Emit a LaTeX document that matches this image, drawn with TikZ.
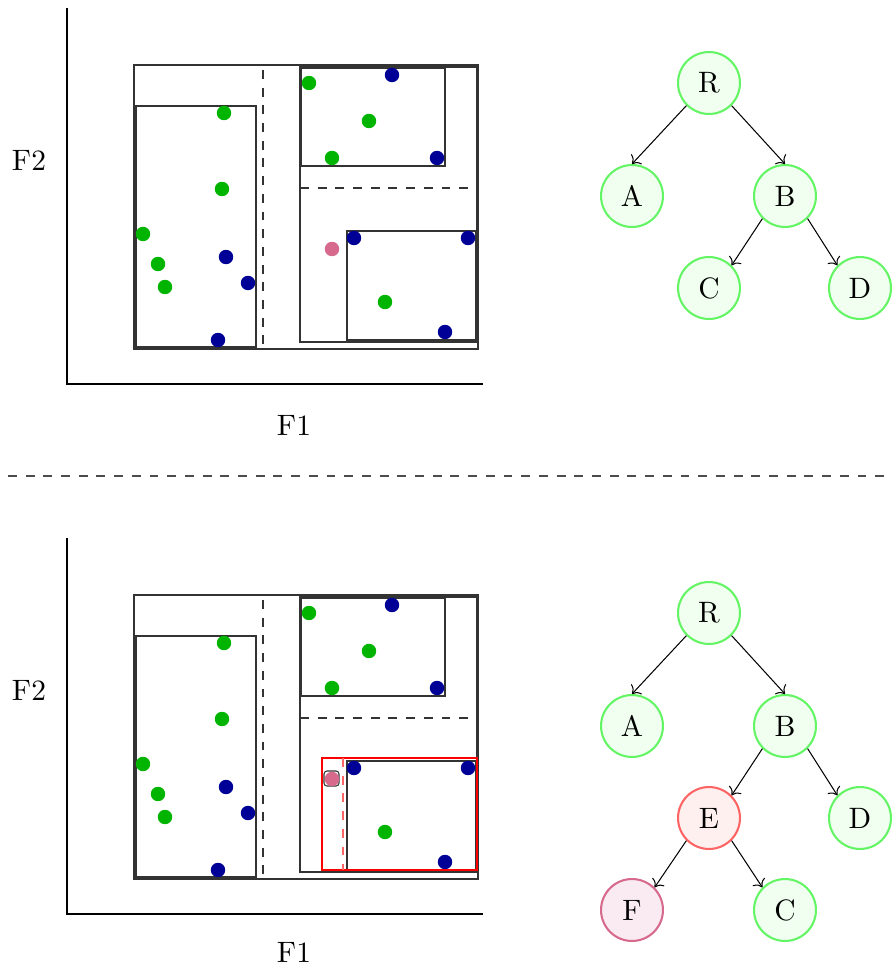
\documentclass[tikz,border=0pt]{standalone}
\usetikzlibrary{arrows.meta}
\definecolor{dotgreen}{RGB}{0,180,0}
\definecolor{dotblue}{RGB}{0,0,150}
\definecolor{dotpink}{RGB}{215,105,140}
\definecolor{tgreen}{RGB}{100,245,100}
\definecolor{tgreenfill}{RGB}{240,255,240}
\definecolor{tred}{RGB}{255,100,100}
\definecolor{tredfill}{RGB}{255,240,240}
\definecolor{tpinkfill}{RGB}{250,235,242}
\newcommand\scatterpanel{%
  \draw (67,8) -- (67,384) -- (483,384);
  \draw[box] (134,65) rectangle (478,349);
  \draw[box,dashed] (263,70) -- (263,349);
  \draw[box] (136,106) rectangle (256,347);
  \draw[box] (300,67) rectangle (477,342);
  \draw[box] (301,68) rectangle (445,166);
  \draw[box,dashed] (300,188) -- (478,188);
  \draw[box] (347,231) rectangle (476,340);
  \foreach \p in {(224,113),(222,189),(143,234),(158,264),(165,287),(309,83),(369,121),(332,158),(385,302)}
    \fill[dotgreen] \p circle (2.45pt);
  \foreach \p in {(226,257),(248,283),(218,340),(392,75),(437,158),(354,238),(468,238),(445,332)}
    \fill[dotblue] \p circle (2.45pt);
}
\begin{document}
\begin{tikzpicture}[x=0.339pt,y=-0.339pt,line width=0.35pt,
  box/.style={draw=black!80},
  tn/.style={circle,draw=tgreen,fill=tgreenfill,line width=0.7pt,minimum size=21pt,inner sep=0pt,font=\normalsize},
  tnred/.style={tn,draw=tred,fill=tredfill},
  tnpink/.style={tn,draw=dotpink,fill=tpinkfill},
  edge/.style={->,line width=0.35pt}]
\useasboundingbox (0,0) rectangle (892,968);

% ---------- top panel ----------
\scatterpanel
\node (tf2) at (29,160) {F2};
\node (tf1) at (294,425) {F1};
\fill[dotpink] (332,249) circle (2.45pt);

\node[tn] (tR) at (709,83) {R};
\node[tn] (tA) at (632,196) {A};
\node[tn] (tB) at (785,196) {B};
\node[tn] (tC) at (709,288) {C};
\node[tn] (tD) at (860,288) {D};
\draw[edge] (tR.south west) -- (tA.north);
\draw[edge] (tR.south east) -- (tB.north);
\draw[edge] (tB.south west) -- (tC.north east);
\draw[edge] (tB.south east) -- (tD.north west);

% ---------- separator ----------
\coordinate (sepL) at (8,476);
\coordinate (sepR) at (892,476);
\draw[dashed,black!70] (sepL) -- (sepR);

% ---------- bottom panel ----------
\begin{scope}[shift={(0,530)}]
\scatterpanel
\draw[red] (322,228) rectangle (477,340);
\draw[red!60,dashed] (343,228) -- (343,340);
\draw[rounded corners=1pt,black!80] (324,241) rectangle (339,256);
\fill[dotpink] (332,249) circle (2.45pt);
\end{scope}
\node (bf2) at (29,690) {F2};
\node (bf1) at (294,952) {F1};

\node[tn] (bR) at (709,613) {R};
\node[tn] (bA) at (632,726) {A};
\node[tn] (bB) at (785,726) {B};
\node[tnred] (bE) at (709,818) {E};
\node[tn] (bD) at (860,818) {D};
\node[tnpink] (bF) at (632,910) {F};
\node[tn] (bC) at (785,910) {C};
\draw[edge] (bR.south west) -- (bA.north);
\draw[edge] (bR.south east) -- (bB.north);
\draw[edge] (bB.south west) -- (bE.north east);
\draw[edge] (bB.south east) -- (bD.north west);
\draw[edge] (bE.south west) -- (bF.north east);
\draw[edge] (bE.south east) -- (bC.north west);
\end{tikzpicture}
\end{document}
